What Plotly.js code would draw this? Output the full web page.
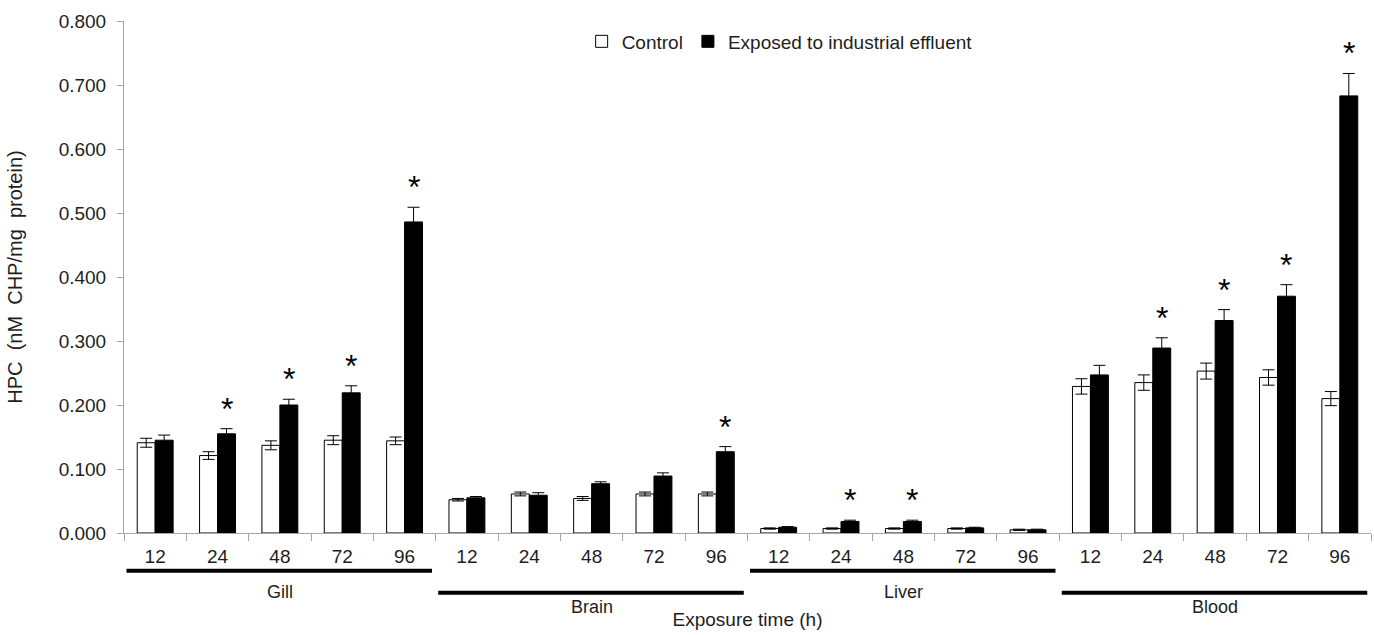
<!DOCTYPE html>
<html>
<head>
<meta charset="utf-8">
<script src="https://cdn.plot.ly/plotly-3.0.1.min.js"></script>
<style>html,body{margin:0;padding:0;background:#fff;}#chart{width:1374px;height:635px;}</style>
</head>
<body>
<div id="chart"></div>
<script>
// ---- data ----
const hours = ['12', '24', '48', '72', '96'];
const tissues = ['Gill', 'Brain', 'Liver', 'Blood'];
const controlMean = [0.141, 0.121, 0.137, 0.145, 0.144,
                     0.052, 0.061, 0.054, 0.061, 0.061,
                     0.007, 0.007, 0.007, 0.007, 0.005,
                     0.229, 0.235, 0.253, 0.243, 0.210];
const controlErr  = [0.007, 0.006, 0.007, 0.007, 0.006,
                     0.002, 0.003, 0.003, 0.003, 0.003,
                     0.001, 0.001, 0.001, 0.001, 0.001,
                     0.012, 0.012, 0.0125, 0.012, 0.011];
const exposedMean = [0.145, 0.155, 0.200, 0.219, 0.486,
                     0.055, 0.059, 0.077, 0.089, 0.127,
                     0.009, 0.018, 0.018, 0.008, 0.005,
                     0.247, 0.289, 0.332, 0.370, 0.683];
const exposedErr  = [0.008, 0.008, 0.009, 0.011, 0.023,
                     0.002, 0.004, 0.003, 0.005, 0.008,
                     0.001, 0.002, 0.002, 0.001, 0.001,
                     0.015, 0.016, 0.017, 0.018, 0.035];
const significant = [0, 1, 1, 1, 1,
                     0, 0, 0, 0, 1,
                     0, 1, 1, 0, 0,
                     0, 1, 1, 1, 1];

// ---- build ----
const xIdx = [];
const tickText = [];
tissues.forEach((t, ti) => hours.forEach((h, hi) => { xIdx.push(ti * hours.length + hi); tickText.push(h); }));

const FONT = 'Liberation Sans, Arial, sans-serif';
const TXT = '#1e1e1e';
const AX = '#a6a6a6';

const traces = [
  {
    type: 'bar', name: 'Control', x: xIdx, y: controlMean,
    marker: {color: '#ffffff', line: {color: '#000000', width: 1}},
    error_y: {type: 'data', array: controlErr, visible: true, color: '#000', thickness: 1, width: 6}
  },
  {
    type: 'bar', name: 'Exposed to industrial effluent', x: xIdx, y: exposedMean,
    marker: {color: '#000000', line: {color: '#000000', width: 1}},
    error_y: {type: 'data', array: exposedErr, visible: true, color: '#000', thickness: 1, width: 6}
  }
];

const bargap = 0.424;
const barW = (1 - bargap) / 2;
const annotations = [];
xIdx.forEach((x, i) => {
  if (significant[i]) {
    annotations.push({
      x: x + barW / 2, y: exposedMean[i] + exposedErr[i], xref: 'x', yref: 'y',
      text: '*', showarrow: false, yanchor: 'bottom', xanchor: 'center',
      font: {family: FONT, size: 32, color: '#000'}
    });
  }
});

const shapes = [];
const lineY = [-0.0736, -0.1166];
const labelY = [-0.115, -0.144];
tissues.forEach((t, ti) => {
  const start = ti * hours.length - 0.5;
  const end = start + hours.length;
  shapes.push({
    type: 'line', xref: 'x', yref: 'paper',
    x0: start + 0.04, x1: end - 0.06, y0: lineY[ti % 2], y1: lineY[ti % 2],
    line: {color: '#000', width: 4}
  });
  annotations.push({
    x: (start + end) / 2, y: labelY[ti % 2], xref: 'x', yref: 'paper',
    text: t, showarrow: false, yanchor: 'middle', xanchor: 'center',
    font: {family: FONT, size: 18, color: TXT}
  });
});

const layout = {
  width: 1374, height: 635,
  margin: {l: 124, r: 3, t: 21, b: 102},
  paper_bgcolor: '#fff', plot_bgcolor: '#fff',
  font: {family: FONT, size: 19, color: TXT},
  barmode: 'group', bargap: bargap, bargroupgap: 0,
  showlegend: true,
  legend: {
    orientation: 'h', x: 0.367, xanchor: 'left', y: 0.96, yanchor: 'middle',
    font: {family: FONT, size: 19, color: TXT}, bgcolor: 'rgba(0,0,0,0)',
    itemwidth: 30, traceorder: 'normal'
  },
  xaxis: {
    range: [-0.5, xIdx.length - 0.5],
    tickmode: 'array', tickvals: xIdx, ticktext: tickText, ticks: '',
    tickfont: {family: FONT, size: 19, color: TXT}, ticklabelstandoff: 6,
    minor: {ticks: 'outside', tick0: -0.5, dtick: 1, ticklen: 7, tickcolor: AX, tickwidth: 1, showgrid: false},
    showline: true, linecolor: AX, linewidth: 1, showgrid: false, zeroline: false,
    title: {text: 'Exposure time (h)', font: {family: FONT, size: 19, color: TXT}, standoff: 46}
  },
  yaxis: {
    range: [0, 0.8], dtick: 0.1, tick0: 0, tickformat: '.3f',
    ticks: 'outside', ticklen: 6, tickcolor: AX, tickwidth: 1,
    tickfont: {family: FONT, size: 19, color: TXT}, ticklabelstandoff: 7,
    showline: true, linecolor: AX, linewidth: 1, showgrid: false, zeroline: false,
    title: {text: 'HPC\u00a0 (nM\u00a0 CHP/mg\u00a0 protein)', font: {family: FONT, size: 20, color: TXT}, standoff: 30}
  },
  shapes: shapes,
  annotations: annotations
};

Plotly.newPlot('chart', traces, layout, {displayModeBar: false, staticPlot: true});
</script>
</body>
</html>
